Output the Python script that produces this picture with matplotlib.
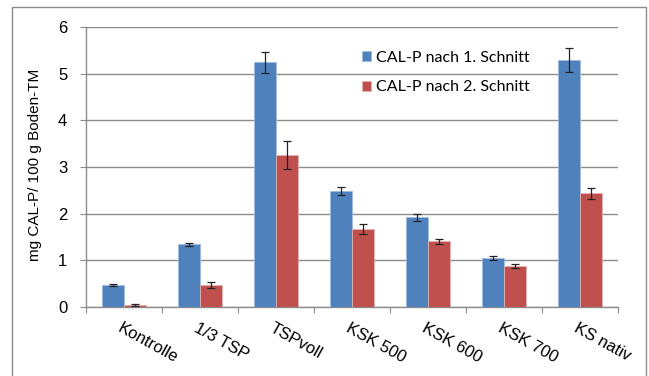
import numpy as np
import matplotlib
matplotlib.use('Agg')
import matplotlib.pyplot as plt
from matplotlib.patches import Rectangle

# Daten
categories = ['Kontrolle', '1/3 TSP', 'TSPvoll', 'KSK 500', 'KSK 600', 'KSK 700', 'KS nativ']
schnitt1 = [0.47, 1.34, 5.24, 2.49, 1.92, 1.05, 5.29]
schnitt1_err = [0.03, 0.04, 0.22, 0.08, 0.08, 0.04, 0.25]
schnitt2 = [0.04, 0.47, 3.25, 1.67, 1.41, 0.88, 2.44]
schnitt2_err = [0.02, 0.07, 0.30, 0.10, 0.05, 0.05, 0.12]
labels = ['CAL-P nach 1. Schnitt', 'CAL-P nach 2. Schnitt']

blue = '#4F81BD'
red = '#C0504D'
grid = '#8c8c8c'

plt.rcParams['font.family'] = ['Liberation Sans', 'DejaVu Sans']

fig = plt.figure(figsize=(6.49, 3.76), dpi=100)
ax = fig.add_axes([86 / 649, 1 - 307 / 376, (618 - 86) / 649, (307 - 27) / 376])

x = np.arange(len(categories))
w = 0.285
ax.bar(x - w / 2, schnitt1, w, color=blue, edgecolor='#9fbbe0', linewidth=0.6,
       yerr=schnitt1_err, error_kw=dict(ecolor='#222222', elinewidth=0.9, capsize=2.6, capthick=0.9),
       label=labels[0], zorder=3)
ax.bar(x + w / 2, schnitt2, w, color=red, edgecolor='#e3b4b3', linewidth=0.6,
       yerr=schnitt2_err, error_kw=dict(ecolor='#222222', elinewidth=0.9, capsize=2.6, capthick=0.9),
       label=labels[1], zorder=3)

ax.set_xlim(-0.5, len(categories) - 0.5)
ax.set_ylim(0, 6)
ax.set_yticks(range(7))
ax.yaxis.grid(True, color=grid, linewidth=1)
ax.set_axisbelow(True)

for s in ['top', 'right']:
    ax.spines[s].set_visible(False)
for s in ['left', 'bottom']:
    ax.spines[s].set_color(grid)
    ax.spines[s].set_linewidth(1)

ax.tick_params(axis='y', length=4.5, color=grid, labelsize=12, pad=9)

# Ticks an den Kategoriegrenzen, Beschriftung in der Mitte
ax.set_xticks(np.arange(len(categories) + 1) - 0.5)
ax.set_xticklabels([])
ax.tick_params(axis='x', which='major', length=4.5, color=grid)
ax.set_xticks(x - 0.02, minor=True)
ax.set_xticklabels(categories, minor=True, fontsize=12)
ax.tick_params(axis='x', which='minor', length=0, pad=10)
plt.setp(ax.get_xticklabels(minor=True), rotation=-29, ha='left', rotation_mode='anchor')

fig.text(35 / 649, 1 - 165 / 376, 'mg CAL-P/ 100 g Boden-TM', rotation=90,
         ha='center', va='center', fontsize=11)

ax.legend(loc='upper left', bbox_to_anchor=(362 / 649, 1 - 51 / 376), bbox_transform=fig.transFigure,
          frameon=False, prop={'family': 'Lato', 'size': 11.5}, handlelength=0.58, handleheight=0.58,
          handletextpad=0.3, labelspacing=0.95, borderpad=0, borderaxespad=0)

# Rahmen
fig.add_artist(Rectangle((11.5 / 649, -0.1), (646 - 11.5) / 649, 1.1 - 7 / 376,
                         transform=fig.transFigure, fill=False, edgecolor='#8c8c8c', linewidth=1))

fig.savefig('out.png', dpi=100)
